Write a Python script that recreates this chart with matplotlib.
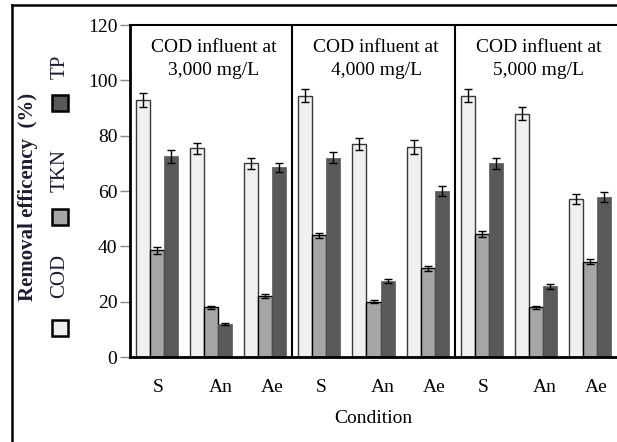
"""Removal efficiency by condition at three COD influent levels."""
import matplotlib
matplotlib.use("Agg")
import matplotlib.pyplot as plt
from matplotlib.patches import Rectangle
from matplotlib.lines import Line2D
import numpy as np

plt.rcParams["font.family"] = ["Liberation Serif", "DejaVu Serif"]

panels = ["COD influent at\n3,000 mg/L", "COD influent at\n4,000 mg/L", "COD influent at\n5,000 mg/L"]
conditions = ["S", "An", "Ae"]

cod = [93, 75.5, 70, 94.5, 77, 76, 94.5, 88, 57]
cod_err = [2.5, 2, 2, 2.5, 2, 2.5, 2.5, 2.5, 1.8]
tkn = [38.5, 18, 22, 44, 20, 32, 44.5, 18, 34.5]
tkn_err = [1.2, 0.5, 0.6, 1.0, 0.6, 0.8, 1.1, 0.6, 0.9]
tp = [72.5, 12, 68.5, 72, 27.5, 60, 70, 25.5, 58]
tp_err = [2.2, 0.4, 1.8, 2.0, 0.6, 1.8, 2.0, 0.8, 1.8]

C_COD, C_TKN, C_TP = "#f0f0f0", "#a6a6a6", "#595959"
TXT = "#1c1c33"

W, H = 617, 442
fig = plt.figure(figsize=(W / 100, H / 100), dpi=100)
ax = fig.add_axes([130 / W, 1 - 357 / H, 1 - 130 / W, (357 - 25) / H])

x = np.arange(9) + 0.5
bw = 0.26
ekw = dict(elinewidth=1, capthick=1, ecolor="black")
ax.bar(x - bw, cod, bw, yerr=cod_err, capsize=3, color=C_COD, edgecolor="#3a3a3a",
       linewidth=1, error_kw=ekw, zorder=2)
ax.bar(x, tkn, bw, yerr=tkn_err, capsize=3, color=C_TKN, edgecolor="black",
       linewidth=1, error_kw=ekw, zorder=2)
ax.bar(x + bw, tp, bw, yerr=tp_err, capsize=3, color=C_TP, edgecolor=C_TP,
       linewidth=0.5, error_kw=ekw, zorder=2)

ax.set_xlim(0, 9)
ax.set_ylim(0, 120)
ax.set_yticks(range(0, 121, 20))
ax.tick_params(axis="y", direction="out", length=7, width=1, color="#888888",
               labelsize=14, pad=2)

offs = [0.53, 1.67, 2.62]
ax.set_xticks([p * 3 + o for p in range(3) for o in offs])
ax.set_xticklabels(conditions * 3)
ax.tick_params(axis="x", length=0, labelsize=14, pad=16)
ax.set_xlabel("Condition", fontsize=14, labelpad=10)

for p, t in enumerate(panels):
    ax.text(p * 3 + 1.55, 115, t, ha="center", va="top", fontsize=14, linespacing=1.45)
for p in (3, 6):
    ax.axvline(p, color="black", lw=1.5, zorder=3)

ax.spines["right"].set_visible(False)
ax.spines["left"].set_linewidth(2)
ax.spines["bottom"].set_linewidth(2)
ax.spines["top"].set_linewidth(1.5)

# rotated legend and y label on the left
fig.text(28 / W, 1 - 197 / H, "Removal efficency  (%)", rotation=90, ha="center",
         va="center", fontsize=15, fontweight="bold", color=TXT)
for lab, col, ysq, ytx in [("COD", C_COD, 328, 276), ("TKN", C_TKN, 217, 171),
                           ("TP", C_TP, 103, 67)]:
    s = 16
    fig.patches.append(Rectangle(((60 - s / 2) / W, 1 - (ysq + s / 2) / H), s / W, s / H,
                                 transform=fig.transFigure, facecolor=col,
                                 edgecolor="black", linewidth=1.8))
    fig.text(60 / W, 1 - ytx / H, lab, rotation=90, ha="center", va="center",
             fontsize=15, color=TXT)

# outer frame
fig.lines.append(Line2D([12 / W, 1], [1 - 5 / H, 1 - 5 / H], transform=fig.transFigure,
                        color="black", lw=1.8))
fig.lines.append(Line2D([12 / W, 12 / W], [0, 1 - 5 / H], transform=fig.transFigure,
                        color="black", lw=1.8))

fig.savefig("out.png", dpi=100, facecolor="white")
